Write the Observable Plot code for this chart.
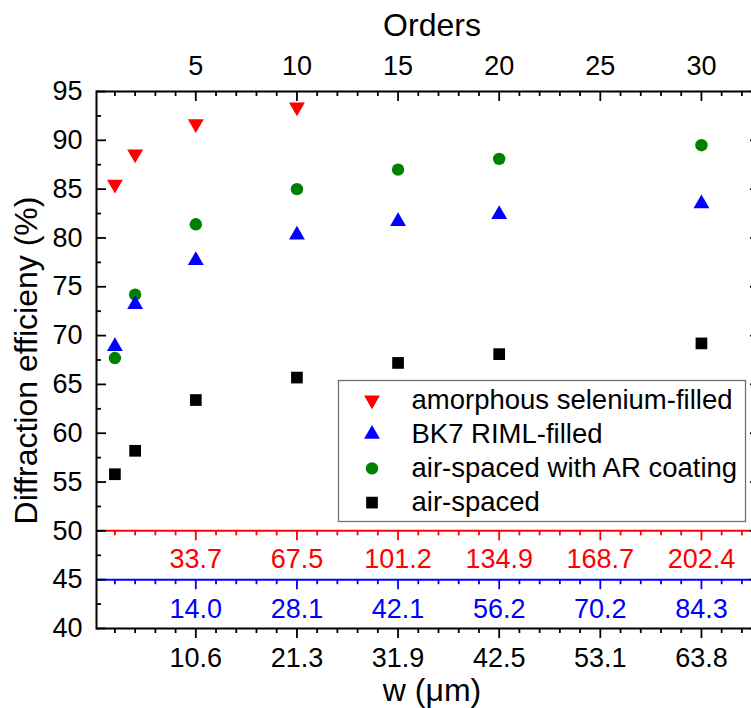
<!DOCTYPE html>
<html><head><meta charset="utf-8">
<script src="https://cdn.jsdelivr.net/npm/d3@7"></script>
<script src="https://cdn.jsdelivr.net/npm/@observablehq/plot@0.6"></script>
<style>body{margin:0;background:#fff;overflow:hidden}</style>
</head><body><div id="chart"></div>
<script>
// ---- data ----
const orders = [1, 2, 5, 10, 15, 20, 30];
const seOrders = [1, 2, 5, 10];
const seValues = [85.5, 88.6, 91.7, 93.4];
const bk7Values = [68.9, 73.2, 77.7, 80.3, 81.7, 82.4, 83.5];
const arValues = [67.7, 74.2, 81.4, 85.0, 87.0, 88.1, 89.5];
const airValues = [55.8, 58.2, 63.4, 65.7, 67.2, 68.1, 69.2];
const seriesNames = ["amorphous selenium-filled", "BK7 RIML-filled", "air-spaced with AR coating", "air-spaced"];
const seriesColors = ["#ff0000", "#0000ff", "#008000", "#000000"];
const majorOrders = [5, 10, 15, 20, 25, 30];
const minorOrders = [1, 2, 3, 4, 6, 7, 8, 9, 11, 12, 13, 14, 16, 17, 18, 19, 21, 22, 23, 24, 26, 27, 28, 29, 31, 32];
const wLabels = ["10.6", "21.3", "31.9", "42.5", "53.1", "63.8"];
const seLabels = ["33.7", "67.5", "101.2", "134.9", "168.7", "202.4"];
const bk7Labels = ["14.0", "28.1", "42.1", "56.2", "70.2", "84.3"];
const yMajor = [40, 45, 50, 55, 60, 65, 70, 75, 80, 85, 90, 95];
const yMinor = [42.5, 47.5, 52.5, 57.5, 62.5, 67.5, 72.5, 77.5, 82.5, 87.5, 92.5];
const xDomain = [0.09, 32.92];
const yDomain = [40, 95];

// ---- symbols ----
const triangleDown = {
  draw(context, size) {
    const y = -Math.sqrt(size / (Math.sqrt(3) * 3));
    context.moveTo(0, -y * 2);
    context.lineTo(-Math.sqrt(3) * y, y);
    context.lineTo(Math.sqrt(3) * y, y);
    context.closePath();
  }
};
const symbols = [triangleDown, d3.symbolTriangle, d3.symbolCircle, d3.symbolSquare];
const radii = [5.9, 5.9, 6.2, 6.6];

const rows = (xs, vs) => xs.map((o, i) => ({order: o, value: vs[i]}));
const seData = rows(seOrders, seValues);
const bk7Data = rows(orders, bk7Values);
const arData = rows(orders, arValues);
const airData = rows(orders, airValues);

const font = "'Liberation Sans', Arial, Helvetica, sans-serif";
const tk = {stroke: "black", strokeWidth: 1.8};
const fs = 27;

const hTicks = (list, yv, len, color) =>
  Plot.ruleX(list, {x: d => d, y1: yv, y2: yv, insetTop: 0, insetBottom: -len, stroke: color, strokeWidth: 1.8});

const svg = Plot.plot({
  width: 751,
  height: 708,
  marginLeft: 96,
  marginRight: -9,
  marginTop: 91,
  marginBottom: 80,
  style: {fontFamily: font, background: "white", color: "black", overflow: "hidden"},
  x: {domain: xDomain, label: null},
  y: {domain: yDomain, label: null},
  marks: [
    // secondary (material) axes
    Plot.ruleY([50], {stroke: "#ff0000", strokeWidth: 2}),
    Plot.ruleY([45], {stroke: "#0000ff", strokeWidth: 2}),
    hTicks(majorOrders, 50, 10, "#ff0000"),
    hTicks(minorOrders, 50, 5, "#ff0000"),
    hTicks(majorOrders, 45, 10, "#0000ff"),
    hTicks(minorOrders, 45, 5, "#0000ff"),
    Plot.text(seLabels, {x: (d, i) => majorOrders[i], y: 50, text: d => d, dy: 37.6, lineAnchor: "bottom", fill: "#ff0000", fontSize: fs}),
    Plot.text(bk7Labels, {x: (d, i) => majorOrders[i], y: 45, text: d => d, dy: 38.8, lineAnchor: "bottom", fill: "#0000ff", fontSize: fs}),
    // frame ticks
    hTicks(majorOrders, 40, 10, "black"),
    hTicks(minorOrders, 40, 5, "black"),
    hTicks(majorOrders, 95, 10, "black"),
    hTicks(minorOrders, 95, 5, "black"),
    Plot.ruleY(yMajor, {y: d => d, x1: xDomain[0], x2: xDomain[0], insetLeft: 0, insetRight: -10, ...tk}),
    Plot.ruleY(yMinor, {y: d => d, x1: xDomain[0], x2: xDomain[0], insetLeft: 0, insetRight: -5, ...tk}),
    Plot.ruleY(yMajor, {y: d => d, x1: xDomain[1], x2: xDomain[1], insetLeft: 0, insetRight: 10, ...tk}),
    Plot.ruleY(yMinor, {y: d => d, x1: xDomain[1], x2: xDomain[1], insetLeft: 0, insetRight: 5, ...tk}),
    // axes labels
    Plot.axisX({anchor: "bottom", ticks: majorOrders, tickSize: 0, tickPadding: 19.5, fontSize: fs, label: null,
      tickFormat: d => wLabels[majorOrders.indexOf(d)]}),
    Plot.axisX({anchor: "top", ticks: majorOrders, tickSize: 0, tickPadding: 17, fontSize: fs, label: null, tickFormat: d => String(d)}),
    Plot.axisY({anchor: "left", ticks: yMajor, tickSize: 0, tickPadding: 14, fontSize: fs, label: null, tickFormat: d => String(d)}),
    Plot.text(["Orders"], {text: d => d, frameAnchor: "top", textAnchor: "middle", dx: 3.5, dy: -56, lineAnchor: "bottom", fontSize: 32}),
    Plot.text(["w (\u03bcm)"], {text: d => d, frameAnchor: "bottom", textAnchor: "middle", dx: 3.5, dy: 72, lineAnchor: "bottom", fontSize: 32}),
    Plot.text(["Diffraction efficieny (%)"], {text: d => d, frameAnchor: "left", textAnchor: "middle", dx: -69.6, dy: 0.5, rotate: -90, lineAnchor: "middle", fontSize: 32}),
    // data
    Plot.dot(airData, {x: "order", y: "value", symbol: symbols[3], r: radii[3], fill: seriesColors[3], stroke: "none"}),
    Plot.dot(arData, {x: "order", y: "value", symbol: symbols[2], r: radii[2], fill: seriesColors[2], stroke: "none"}),
    Plot.dot(bk7Data, {x: "order", y: "value", symbol: symbols[1], r: radii[1], fill: seriesColors[1], stroke: "none"}),
    Plot.dot(seData, {x: "order", y: "value", symbol: symbols[0], r: radii[0], fill: seriesColors[0], stroke: "none"}),
    Plot.frame({stroke: "black", strokeWidth: 2})
  ]
});

// ---- legend (inside the plot area) ----
const lg = d3.select(svg).append("g").attr("font-family", font).attr("font-size", 27.5).attr("text-anchor", "start");
lg.append("rect").attr("x", 338.5).attr("y", 380.5).attr("width", 407).attr("height", 141)
  .attr("fill", "white").attr("stroke", "#707070").attr("stroke-width", 1.3);
seriesNames.forEach((name, i) => {
  const cy = 400 + i * 34.2;
  lg.append("path")
    .attr("transform", `translate(372,${cy})`)
    .attr("d", d3.symbol(symbols[i], radii[i] * radii[i] * Math.PI)())
    .attr("fill", seriesColors[i]);
  lg.append("text").attr("x", 411.5).attr("y", cy).attr("dy", "0.32em")
    .attr("text-anchor", "start").attr("fill", "black").text(name);
});

document.getElementById("chart").appendChild(svg);
</script>
</body></html>
